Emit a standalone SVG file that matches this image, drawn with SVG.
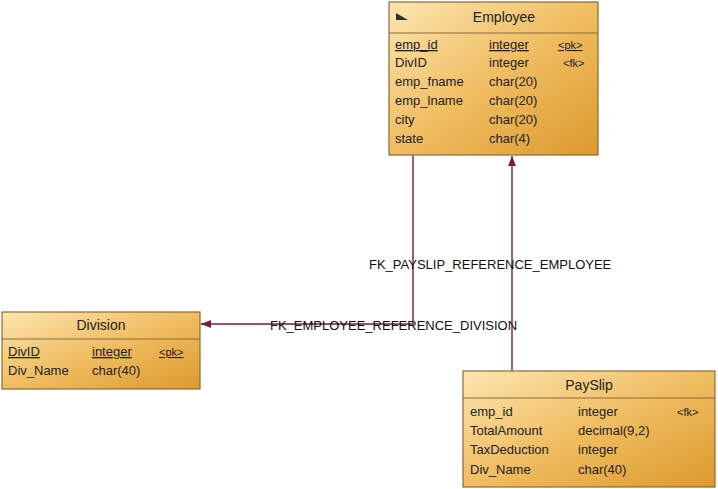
<svg xmlns="http://www.w3.org/2000/svg" width="718" height="489" viewBox="0 0 718 489">
<defs>
<linearGradient id="g" x1="0" y1="0" x2="1" y2="1"><stop offset="0" stop-color="#fce6b0"/><stop offset="0.5" stop-color="#f0bd62"/><stop offset="1" stop-color="#dc9a2c"/></linearGradient>
<marker id="a" viewBox="0 0 10 10" refX="10" refY="5" markerWidth="10" markerHeight="10" markerUnits="userSpaceOnUse" orient="auto"><path d="M0,1 L10,5 L0,9 Z" fill="#7a1c44"/></marker>
<style>
.box{fill:url(#g);stroke:#8a6a3a;stroke-width:1.2}
.sep{stroke:#8a6a3a;stroke-width:1}
text{font-family:"Liberation Sans",Arial,sans-serif;font-size:13px;fill:#222}
.t{font-size:14px;text-anchor:middle}
.u{text-decoration:underline}
.s{font-size:11px}
.c{fill:none;stroke:#7a1c44;stroke-width:1.4}
.l{font-size:13px;fill:#111}
</style>
</defs>
<rect width="718" height="489" fill="#fff"/>
<g id="connectors">
<path class="c" d="M413,155 V324 H201" marker-end="url(#a)"/>
<path class="c" d="M512,371 V156" marker-end="url(#a)"/>
<text class="l" x="369" y="269">FK_PAYSLIP_REFERENCE_EMPLOYEE</text>
<text class="l" x="270" y="330">FK_EMPLOYEE_REFERENCE_DIVISION</text>
</g>
<g id="employee">
<rect class="box" x="389" y="2" width="209" height="153"/>
<line class="sep" x1="389" y1="33" x2="598" y2="33"/>
<path d="M396,13 L396,20 L408,20 Z" fill="#333"/>
<text class="t" x="504" y="22">Employee</text>
<text x="395" y="49" class="u">emp_id</text><text x="489" y="49" class="u">integer</text><text x="558" y="49" class="u s">&lt;pk&gt;</text>
<text x="395" y="67">DivID</text><text x="489" y="67">integer</text><text x="563" y="67" class="s">&lt;fk&gt;</text>
<text x="395" y="86">emp_fname</text><text x="489" y="86">char(20)</text>
<text x="395" y="105">emp_lname</text><text x="489" y="105">char(20)</text>
<text x="395" y="124">city</text><text x="489" y="124">char(20)</text>
<text x="395" y="143">state</text><text x="489" y="143">char(4)</text>
</g>
<g id="division">
<rect class="box" x="2" y="312" width="198" height="77"/>
<line class="sep" x1="2" y1="339" x2="200" y2="339"/>
<text class="t" x="101" y="330">Division</text>
<text x="8" y="356" class="u">DivID</text><text x="92" y="356" class="u">integer</text><text x="159" y="356" class="u s">&lt;pk&gt;</text>
<text x="8" y="375">Div_Name</text><text x="92" y="375">char(40)</text>
</g>
<g id="payslip">
<rect class="box" x="463" y="371" width="252" height="116"/>
<line class="sep" x1="463" y1="398" x2="715" y2="398"/>
<text class="t" x="589" y="390">PaySlip</text>
<text x="470" y="416">emp_id</text><text x="578" y="416">integer</text><text x="677" y="416" class="s">&lt;fk&gt;</text>
<text x="470" y="435">TotalAmount</text><text x="578" y="435">decimal(9,2)</text>
<text x="470" y="454">TaxDeduction</text><text x="578" y="454">integer</text>
<text x="470" y="474">Div_Name</text><text x="578" y="474">char(40)</text>
</g>
</svg>
